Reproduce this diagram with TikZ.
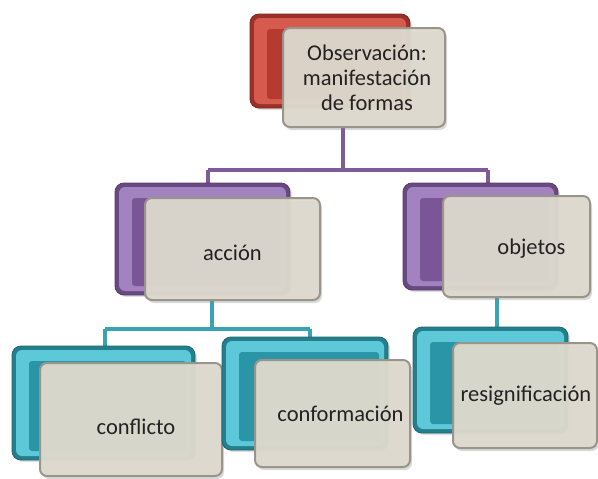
\documentclass[tikz,border=0pt]{standalone}
\usepackage{fontspec}
\setmainfont{Carlito}
\usetikzlibrary{shadows,backgrounds}
\definecolor{redM}{HTML}{B53A30}
\definecolor{redL}{HTML}{D65A4E}
\definecolor{purM}{HTML}{7A5698}
\definecolor{purL}{HTML}{A283BF}
\definecolor{teaM}{HTML}{2A95A6}
\definecolor{teaL}{HTML}{5CC8D8}
\definecolor{beige}{HTML}{DEDACE}
\definecolor{frame}{HTML}{9A958A}
\definecolor{purLine}{HTML}{7D5C98}
\definecolor{teaLine}{HTML}{3AA3B3}
\definecolor{txt}{HTML}{222222}
\newcommand{\dn}[2]{\raisebox{-#1}[\height][\depth]{#2}}
\tikzset{
  backbox/.style 2 args={rounded corners=9pt, fill=#1!85!black, draw=#1!70!black,
    line width=0.8pt, inner sep=0pt, outer sep=0pt,
    drop shadow={shadow xshift=2pt, shadow yshift=-2pt, opacity=0.25},
    path picture={
      \fill[#2, rounded corners=6pt]
        ([shift={(4pt,-4pt)}]path picture bounding box.north west) rectangle
        ([shift={(-4pt,4pt)}]path picture bounding box.south east);
      \fill[#1, rounded corners=3pt]
        ([shift={(17pt,-15pt)}]path picture bounding box.north west) rectangle
        ([shift={(-9pt,9pt)}]path picture bounding box.south east);
    }},
  frontbox/.style={rounded corners=7pt, fill=beige, fill opacity=0.95,
    text opacity=1, draw=frame, line width=2pt, inner sep=0pt, outer sep=0pt,
    font=\fontsize{22.5}{25}\selectfont, align=center, text=txt,
    drop shadow={shadow xshift=2pt, shadow yshift=-3pt, opacity=0.3}},
  link/.style={line width=3.4pt},
}
\begin{document}
\begin{tikzpicture}[x=1pt,y=-1pt]
\useasboundingbox (0,0) rectangle (598,479);
% top
\node[backbox={redM}{redL}, minimum width=160pt, minimum height=94pt] (topB) at (330,61) {};
\node[frontbox, minimum width=162pt, minimum height=99pt] (topF) at (364,77.5) {\hspace*{6pt}Observación:\\\hspace*{6pt}manifestación\\\hspace*{6pt}de formas};
% middle
\node[backbox={purM}{purL}, minimum width=175pt, minimum height=112pt] (accB) at (202.5,239) {};
\node[frontbox, minimum width=175pt, minimum height=102pt] (accF) at (232.5,249) {\dn{4pt}{acción}};
\node[backbox={purM}{purL}, minimum width=155pt, minimum height=107pt] (objB) at (480.5,236.5) {};
\node[frontbox, minimum width=147pt, minimum height=101pt] (objF) at (516.5,246.5) {\hspace*{30pt}\dn{2pt}{objetos}};
% bottom
\node[backbox={teaM}{teaL}, minimum width=183pt, minimum height=114pt] (conB) at (103.5,403) {};
\node[frontbox, minimum width=182pt, minimum height=113pt] (conF) at (131,419.5) {\hspace*{10pt}\dn{7pt}{conflicto}};
\node[backbox={teaM}{teaL}, minimum width=166pt, minimum height=113pt] (cfmB) at (305,393.5) {};
\node[frontbox, minimum width=155pt, minimum height=107pt] (cfmF) at (332.5,413.5) {\hspace*{16pt}conformación};
\node[backbox={teaM}{teaL}, minimum width=155pt, minimum height=106pt] (resB) at (490.5,380) {};
\node[frontbox, minimum width=144pt, minimum height=105pt] (resF) at (525,395.5) {\hspace*{2pt}resignificación};
% connectors
\begin{scope}[on background layer]
\coordinate (j1) at (343,170);
\coordinate (j1l) at (208,170);
\coordinate (j1r) at (488,170);
\draw[link, purLine] (topF.south -| j1) -- (j1);
\draw[link, purLine] (j1l) -- (j1r);
\draw[link, purLine] (j1l) -- (j1l |- accB.north);
\draw[link, purLine] (j1r) -- (j1r |- objB.north);
\coordinate (j2) at (212,329);
\coordinate (j2l) at (105,329);
\coordinate (j2r) at (310,329);
\draw[link, teaLine] (accF.south -| j2) -- (j2);
\draw[link, teaLine] (j2l) -- (j2r);
\draw[link, teaLine] (j2l) -- (j2l |- conB.north);
\draw[link, teaLine] (j2r) -- (j2r |- cfmB.north);
\coordinate (j3) at (497,310);
\draw[link, teaLine] (objF.south -| j3) -- (j3 |- resB.north);
\end{scope}
\end{tikzpicture}
\end{document}
